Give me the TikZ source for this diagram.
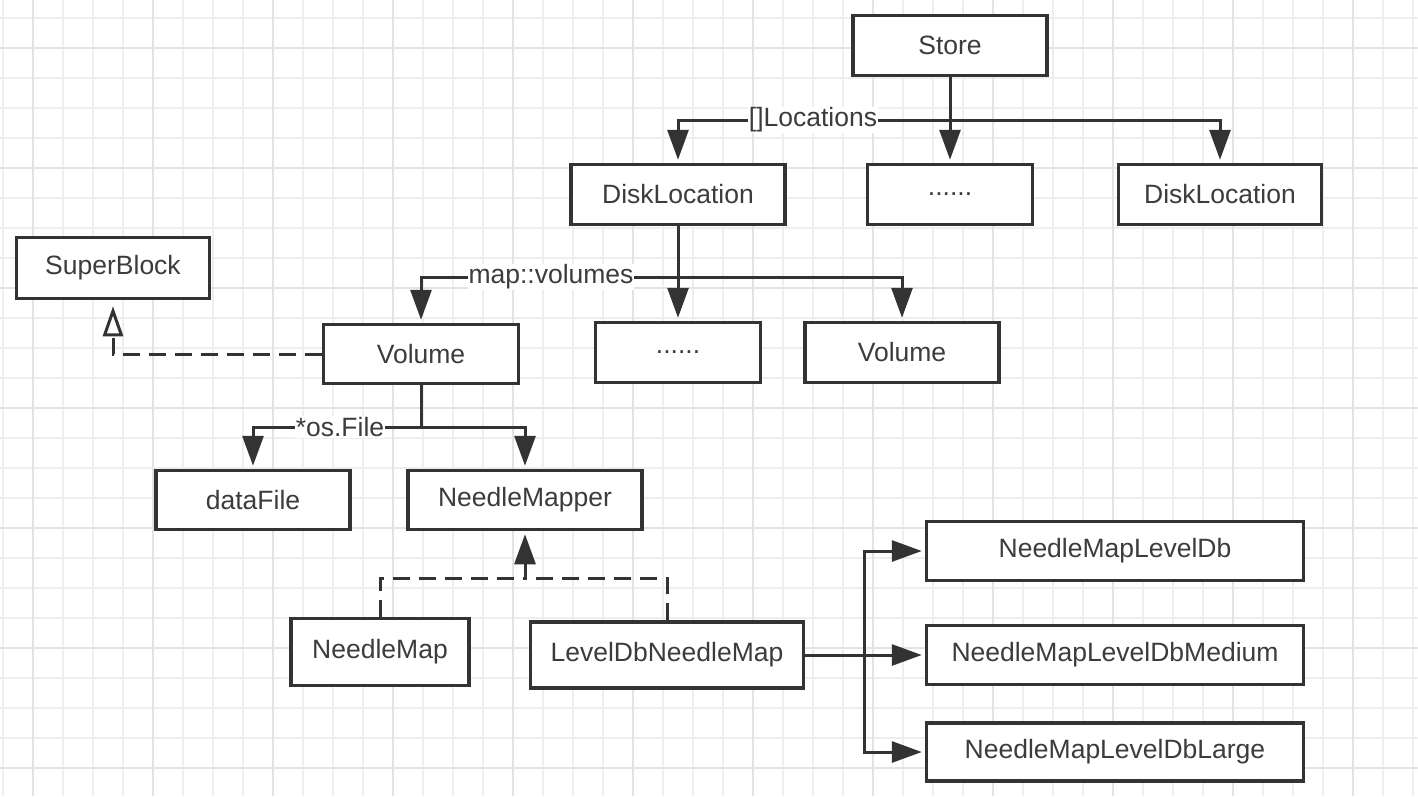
\documentclass[tikz,border=0pt]{standalone}
\usepackage{fontspec}
\setmainfont{Liberation Sans}
\usepackage{tikz}
\usetikzlibrary{arrows.meta,positioning}
\definecolor{ink}{HTML}{333333}
\definecolor{txt}{HTML}{3C3C3C}
\definecolor{gridminor}{HTML}{EEEEEE}
\definecolor{gridmajor}{HTML}{E3E3E3}
\tikzstyle{cls}=[rectangle,draw=ink,line width=3.5pt,fill=white,text=txt,inner sep=0pt,minimum height=60pt]
\tikzstyle{lbl}=[fill=white,text=txt,inner sep=1pt]
\tikzstyle{assoc}=[-{Triangle[length=30pt,width=21pt]},shorten >=3pt]
\tikzstyle{impl}=[dash pattern=on 17pt off 9pt]
\tikzstyle{inherit}=[impl,-{Triangle[open,length=30pt,width=20pt]},shorten >=6pt]

\begin{document}
\begin{tikzpicture}[x=1pt,y=-1pt,line width=3pt,color=ink,
                    font=\fontsize{26.5}{32}\selectfont]

  % paper with grid
  \fill[white] (0,0) rectangle (1418,796);
  \useasboundingbox (0,0) rectangle (1418,796);
  \foreach \gx in {3,33,...,1413} \draw[gridminor,line width=1.5pt] (\gx,0) -- (\gx,796);
  \foreach \gy in {18,48,...,790} \draw[gridminor,line width=1.5pt] (0,\gy) -- (1418,\gy);
  \foreach \gx in {33,153,...,1413} \draw[gridmajor,line width=1.5pt] (\gx,0) -- (\gx,796);
  \foreach \gy in {48,168,...,790} \draw[gridmajor,line width=1.5pt] (0,\gy) -- (1418,\gy);

  \node[cls,minimum width=194] (store)  at (950,45.5)  {Store};
  \node[cls,minimum width=214] (dl1)    at (678,194.5) {DiskLocation};
  \node[cls,minimum width=165] (dots1)  at (950,194.5) {......};
  \node[cls,minimum width=203] (dl2)    at (1220,194.5) {DiskLocation};
  \node[cls,minimum width=193,minimum height=61] (superblock) at (113,268) {SuperBlock};
  \node[cls,minimum width=195,minimum height=59] (vol1) at (421,354) {Volume};
  \node[cls,minimum width=165] (dots2)  at (678,352.5) {......};
  \node[cls,minimum width=194] (vol2)   at (902,352.5) {Volume};
  \node[cls,minimum width=194,minimum height=59] (datafile) at (253,500) {dataFile};
  \node[cls,minimum width=234,minimum height=59] (mapper)   at (525,500) {NeedleMapper};
  \node[cls,minimum width=178,minimum height=67] (nmap)     at (380,652) {NeedleMap};
  \node[cls,minimum width=273,minimum height=66] (ldbmap)   at (667,655) {LevelDbNeedleMap};
  \node[cls,minimum width=377,minimum height=59] (nmldb)    at (1115,551) {NeedleMapLevelDb};
  \node[cls,minimum width=377,minimum height=59] (nmldbm)   at (1115,655) {NeedleMapLevelDbMedium};
  \node[cls,minimum width=377,minimum height=58] (nmldbl)   at (1115,752) {NeedleMapLevelDbLarge};

  \coordinate (locs)  at (950,120);
  \coordinate (vols)  at (678,277);
  \coordinate (files) at (421,427);
  \coordinate (impls) at (525,578);
  \coordinate (lvls)  at (864,655);

  % store -> locations
  \draw[assoc] (store) -- (dots1);
  \draw[assoc] (locs) -| (dl1);
  \draw[assoc] (locs) -| (dl2);
  \node[lbl] (loclbl) at (813,120) {[]Locations};

  % disk location -> volumes
  \draw[assoc] (dl1) -- (dots2);
  \draw[assoc] (vols) -| (vol1);
  \draw[assoc] (vols) -| (vol2);
  \node[lbl] (vollbl) at (551,277) {map::volumes};

  % volume
  \draw[inherit] (vol1) -| (superblock);
  \draw (vol1) -- (files);
  \draw[assoc] (files) -| (datafile);
  \draw[assoc] (files) -| (mapper);
  \node[lbl] (filelbl) at (340,427) {*os.File};

  % needle maps
  \draw[impl] (nmap) |- (impls);
  \draw[impl] (ldbmap) |- (impls);
  \draw[assoc] (impls) -- (mapper);
  \draw[assoc] (ldbmap) -- (nmldbm);
  \draw[assoc] (lvls) |- (nmldb);
  \draw[assoc] (lvls) |- (nmldbl);
\end{tikzpicture}
\end{document}
